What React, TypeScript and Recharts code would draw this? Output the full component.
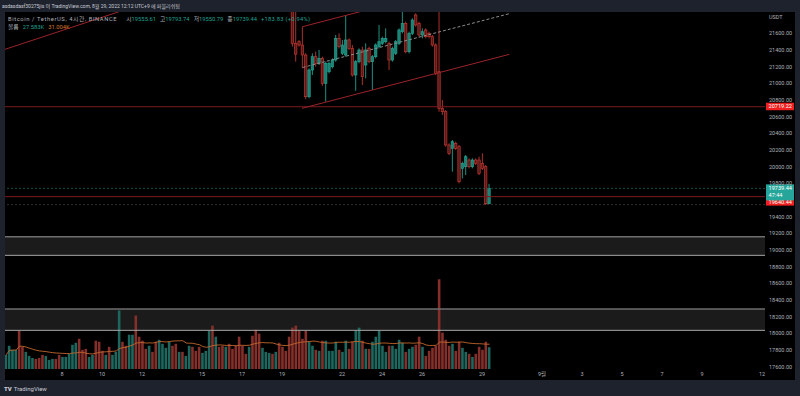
import React from 'react';
import { ComposedChart, Bar, Line, XAxis, YAxis, ReferenceLine, ReferenceArea } from 'recharts';

const FONT = "Roboto, 'Noto Sans', 'Noto Sans CJK KR', sans-serif";

// time is measured in days from 2022-08-01 00:00 (UTC+9); one bar = 4 hours
const firstBarDay = 4 + 5 / 24;
const barDays = 4 / 24;
const timeDomain = [4.15, 42.15];

const dayTicks = [7, 9, 11, 14, 16, 18, 21, 23, 25, 28, 31, 33, 35, 37, 39, 42];
const dayTickLabels = ['8', '10', '12', '15', '17', '19', '22', '24', '26', '29', '9월', '3', '5', '7', '9', '12'];

const priceDomain = [17572, 21856];
const priceTicks = [17600, 17800, 18000, 18200, 18400, 18600, 18800, 19000, 19200, 19400, 19800, 20000, 20200, 20400, 20600, 20800, 21000, 21200, 21400, 21600];

// volume in thousands (K)
const volumes = [
  17.9, 29.4, 24.3, 24.3, 48.5, 28.1, 21.7, 16.6, 14.0, 12.8,
  14.0, 17.9, 16.6, 11.5, 12.8, 12.8, 17.9, 15.3, 15.3, 19.2,
  30.6, 33.2, 38.3, 24.3, 25.5, 15.3, 17.9, 35.8, 34.5, 23.0,
  17.9, 28.1, 17.9, 21.7, 74.1, 34.5, 29.4, 43.4, 43.4, 67.7,
  40.9, 35.8, 25.5, 29.4, 21.7, 34.5, 37.0, 31.9, 26.8, 34.5,
  29.4, 31.9, 21.7, 21.7, 16.6, 29.4, 28.1, 23.0, 28.1, 20.4,
  23.0, 48.5, 54.9, 40.9, 28.1, 29.4, 28.1, 31.9, 25.5, 29.4,
  40.9, 29.4, 19.2, 28.1, 42.1, 49.8, 44.7, 26.8, 21.7, 20.4,
  19.2, 21.7, 33.2, 28.1, 23.0, 40.9, 52.4, 54.9, 48.5, 38.3,
  48.5, 34.5, 29.4, 24.3, 23.0, 35.8, 35.8, 23.0, 23.0, 34.5,
  24.3, 21.7, 35.8, 25.5, 34.5, 48.5, 52.4, 35.8, 25.5, 25.5,
  34.5, 40.9, 48.5, 29.4, 21.7, 29.4, 29.4, 25.5, 37.0, 33.2,
  21.7, 25.5, 28.1, 30.6, 40.9, 28.1, 16.6, 23.0, 26.8, 29.4,
  113.6, 46.0, 37.0, 29.4, 31.9, 23.0, 34.5, 26.8, 21.7, 19.2,
  15.3, 19.2, 28.1, 24.3, 34.5, 27.583,
];
// 1 = up bar (teal), 0 = down bar (red)
const volumeUp = [
  1, 1, 1, 1, 0, 0, 1, 1, 1, 0,
  0, 0, 1, 1, 1, 0, 0, 1, 1, 1,
  1, 1, 0, 0, 0, 1, 1, 0, 0, 0,
  1, 0, 1, 1, 1, 0, 0, 1, 1, 0,
  0, 0, 0, 1, 0, 0, 1, 1, 1, 1,
  0, 0, 1, 0, 1, 1, 0, 0, 0, 1,
  1, 1, 0, 1, 0, 0, 1, 0, 0, 0,
  0, 0, 0, 1, 0, 0, 0, 1, 1, 1,
  0, 1, 0, 0, 0, 0, 0, 0, 0, 0,
  0, 1, 1, 0, 1, 0, 1, 1, 1, 1,
  0, 1, 1, 0, 0, 1, 1, 0, 1, 0,
  1, 1, 1, 1, 1, 0, 1, 1, 1, 1,
  0, 1, 1, 0, 0, 1, 0, 0, 0, 0,
  0, 0, 0, 0, 1, 0, 0, 1, 1, 0,
  1, 0, 0, 0, 0, 1,
];
const volumeDomain = [0, 452];
const maLength = 20;

// candles visible in the price window start at bar 86
const firstCandleIndex = 86;
const opens = [
  22080, 21480, 21500, 21460, 21340, 20840, 21160, 21320, 21240, 21300,
  21000, 21140, 21200, 21280, 21540, 21360, 21340, 21520, 21420, 21100,
  21260, 21400, 21220, 21420, 21260, 21320, 21440, 21480, 21500, 21480,
  21280, 21360, 21480, 21620, 21720, 21380, 21600, 21820, 21720, 21580,
  21640, 21600, 21560, 21460, 21140, 20700, 20660, 20260, 20220, 20280,
  20240, 19980, 20000, 20080, 20000, 20080, 20080, 20040, 20000, 19555.61,
];
const highs = [
  22150, 21900, 21520, 21680, 21360, 21180, 21360, 21380, 21400, 21320,
  21260, 21260, 21300, 21580, 21600, 21520, 21820, 21540, 21460, 21280,
  21420, 21440, 21480, 21440, 21340, 21480, 21700, 21560, 21660, 21500,
  21440, 21520, 21660, 21860, 21740, 21620, 21780, 21840, 21740, 21660,
  21660, 21620, 21580, 21480, 21900, 20800, 20680, 20280, 20320, 20300,
  20260, 20060, 20140, 20100, 20100, 20100, 20120, 20160, 20020, 19793.74,
];
const lows = [
  21440, 21260, 21440, 21180, 20810, 20820, 21100, 21200, 21220, 20970,
  20780, 21120, 21180, 21260, 21420, 21340, 21320, 21400, 21080, 20910,
  21240, 20980, 21060, 21240, 20920, 21300, 21420, 21460, 21480, 21160,
  21260, 21340, 21460, 21600, 21360, 21360, 21580, 21680, 21560, 21540,
  21540, 21540, 21440, 21100, 20660, 20620, 20240, 20140, 19940, 20200,
  19800, 19860, 19900, 19980, 19980, 20020, 19900, 19960, 19540, 19550.79,
];
const closes = [
  21480, 21350, 21460, 21340, 20840, 21160, 21320, 21240, 21300, 21000,
  21240, 21240, 21280, 21540, 21440, 21460, 21520, 21420, 21100, 21260,
  21400, 21080, 21400, 21260, 21320, 21460, 21500, 21540, 21540, 21280,
  21420, 21500, 21640, 21720, 21380, 21600, 21760, 21700, 21580, 21620,
  21560, 21560, 21460, 21120, 20700, 20660, 20260, 20160, 20300, 20220,
  19820, 20040, 20120, 20000, 20080, 20040, 19920, 19980, 19555.61, 19739.44,
];

// drawings
const resistanceLevel = 20719.22;
const lastPrice = 19739.44;
const supportLevel = 19640.44;
const lowGuide = 19545;
const zones = [
  [18936, 19159],
  [18036, 18292],
];
const trendLines = [
  { from: [4.0, 21396], to: [11, 21951], dashed: false },
  { from: [19.03, 21680], to: [29.365, 22326], dashed: false },
  { from: [19.0, 20700], to: [29.365, 21348], dashed: false },
  { from: [19.03, 21190], to: [29.365, 21836], dashed: true },
];

const movingAverage = volumes.map((_, i) => {
  const w = volumes.slice(Math.max(0, i - maLength + 1), i + 1);
  return w.reduce((a, b) => a + b, 0) / w.length;
});

const rows = volumes.map((v, i) => {
  const k = i - firstCandleIndex;
  const has = k >= 0;
  return {
    t: firstBarDay + i * barDays,
    vol: v,
    up: volumeUp[i] === 1,
    ma: movingAverage[i],
    open: has ? opens[k] : null,
    high: has ? highs[k] : null,
    low: has ? lows[k] : null,
    close: has ? closes[k] : null,
    range: has ? [lows[k], highs[k]] : null,
  };
});

const UP = '#22a08f';
const UP_FILL = '#1c8072';
const DOWN = '#c0372f';
const DOWN_FILL = '#561a1a';

const CandleShape = (props: any) => {
  const { x, y, width, height, payload } = props;
  if (!payload || payload.open == null || !isFinite(y) || !isFinite(height)) return null;
  const { open, close, high, low } = payload;
  const top = Math.min(y, y + height);
  const bottom = Math.max(y, y + height);
  const span = high - low || 1;
  const toY = (p: number) => top + ((high - p) / span) * (bottom - top);
  const up = close >= open;
  const yo = toY(open);
  const yc = toY(close);
  const bodyTop = Math.min(yo, yc);
  const bodyH = Math.max(Math.abs(yo - yc), 0.8);
  const cx = x + width / 2;
  const stroke = up ? UP : DOWN;
  return (
    <g>
      <line x1={cx} x2={cx} y1={top} y2={bottom} stroke={stroke} strokeWidth={0.9} />
      <rect x={x} y={bodyTop} width={width} height={bodyH} fill={up ? UP_FILL : DOWN_FILL} stroke={stroke} strokeWidth={0.7} />
    </g>
  );
};

const VolumeShape = (props: any) => {
  const { x, y, width, height, payload } = props;
  if (!isFinite(y) || !isFinite(height)) return null;
  return <rect x={x} y={y} width={width} height={height} fill={payload.up ? '#1c675e' : '#852f2a'} />;
};

const PriceTag = (props: any) => {
  const { viewBox, text, sub, color, shift = 0 } = props;
  if (!viewBox) return null;
  const x = viewBox.x + viewBox.width + 1;
  const yLine = viewBox.y;
  const top = yLine - 4 + shift;
  const h = sub ? 16 : 7.5;
  return (
    <g>
      <rect x={x} y={top} width={28} height={h} fill={color} />
      <text x={x + 2.5} y={top + 5.6} fontSize={5.6} fill="#ffffff" fontFamily={FONT}>{text}</text>
      {sub ? (
        <text x={x + 2.5} y={top + 13} fontSize={5.6} fill="#ffffff" fontFamily={FONT}>{sub}</text>
      ) : null}
    </g>
  );
};

const grayTxt = '#aeb1b9';
const tealTxt = '#1fa091';

export default function App() {
  return (
    <div style={{ position: 'absolute', left: 0, top: 0, width: 800, height: 396, background: '#1e222d', overflow: 'hidden', fontFamily: FONT }}>
      <div style={{ position: 'absolute', left: 5, top: 12, width: 790, height: 368, background: '#000' }}>
        <ComposedChart width={790} height={368} data={rows} margin={{ top: 0, right: 0, bottom: 0, left: 0 }}>
          <XAxis
            xAxisId="t"
            type="number"
            dataKey="t"
            domain={timeDomain}
            allowDataOverflow
            ticks={dayTicks}
            interval={0}
            tickFormatter={(v: number) => dayTickLabels[dayTicks.indexOf(v)] ?? ''}
            height={11}
            axisLine={false}
            tickLine={false}
            tickSize={1}
            tickMargin={2}
            tick={{ fill: grayTxt, fontSize: 5.5, fontFamily: FONT }}
          />
          <XAxis xAxisId="c" type="number" dataKey="t" domain={timeDomain} allowDataOverflow hide height={0} orientation="top" />
          <YAxis
            yAxisId="price"
            orientation="right"
            domain={priceDomain}
            allowDataOverflow
            ticks={priceTicks}
            interval={0}
            width={30}
            axisLine={false}
            tickLine={false}
            tickSize={2}
            tickMargin={2}
            tickFormatter={(v: number) => v.toFixed(2)}
            tick={{ fill: grayTxt, fontSize: 5.5, fontFamily: FONT }}
          />
          <YAxis yAxisId="vol" hide domain={volumeDomain} allowDataOverflow width={0} />

          {zones.map(([lo, hi], i) => (
            <ReferenceArea key={'z' + i} xAxisId="t" yAxisId="price" y1={lo} y2={hi} fill="#1b1b1b" fillOpacity={1} stroke="none" ifOverflow="hidden" />
          ))}
          {zones.map(([lo, hi], i) => (
            <ReferenceLine key={'zt' + i} xAxisId="t" yAxisId="price" y={hi} stroke="#6e6e6e" strokeWidth={1.4} />
          ))}
          {zones.map(([lo, hi], i) => (
            <ReferenceLine key={'zb' + i} xAxisId="t" yAxisId="price" y={lo} stroke="#a6a6a6" strokeWidth={1} />
          ))}

          <Bar xAxisId="t" yAxisId="vol" dataKey="vol" barSize={2.6} shape={VolumeShape} isAnimationActive={false} />
          <Line xAxisId="t" yAxisId="vol" dataKey="ma" stroke="#c2662c" strokeWidth={0.9} dot={false} activeDot={false} isAnimationActive={false} />
          <Bar xAxisId="c" yAxisId="price" dataKey="range" barSize={2.4} shape={CandleShape} isAnimationActive={false} />

          <ReferenceLine xAxisId="t" yAxisId="price" y={lowGuide} stroke="#3a3a3a" strokeDasharray="2 2" strokeWidth={0.8} />
          <ReferenceLine
            xAxisId="t"
            yAxisId="price"
            y={resistanceLevel}
            stroke="#7a1a1f"
            strokeWidth={1}
            label={<PriceTag text="20719.22" color="#f01e1e" />}
          />
          <ReferenceLine
            xAxisId="t"
            yAxisId="price"
            y={supportLevel}
            stroke="#7a1a1f"
            strokeWidth={1}
            label={<PriceTag text="19640.44" color="#f01e1e" shift={5.5} />}
          />
          <ReferenceLine
            xAxisId="t"
            yAxisId="price"
            y={lastPrice}
            stroke="#1d5a52"
            strokeDasharray="2 2"
            strokeWidth={0.8}
            label={<PriceTag text="19739.44" sub="47:44" color="#26a69a" />}
          />
          {trendLines.map((l, i) => (
            <ReferenceLine
              key={'tl' + i}
              xAxisId="t"
              yAxisId="price"
              segment={[{ x: l.from[0], y: l.from[1] }, { x: l.to[0], y: l.to[1] }]}
              stroke={l.dashed ? '#8c8c8c' : '#9a2429'}
              strokeDasharray={l.dashed ? '3 2' : undefined}
              strokeWidth={1}
              ifOverflow="hidden"
            />
          ))}
        </ComposedChart>
      </div>

      <div style={{ position: 'absolute', left: 2, top: 0, height: 12, lineHeight: '12px', fontSize: 5, color: '#c9ccd4', whiteSpace: 'nowrap' }}>
        asdasdasf30275jis 이 TradingView.com, 8월 29, 2022 12:12 UTC+9 에 퍼블리쉬됨
      </div>
      <div style={{ position: 'absolute', left: 8, top: 15, height: 8, lineHeight: '8px', fontSize: 5.8, color: grayTxt, whiteSpace: 'nowrap' }}>
        <span style={{ letterSpacing: 0.6 }}>Bitcoin / TetherUS, 4시간, BINANCE</span>
        <span style={{ marginLeft: 9 }}>시</span><span style={{ color: tealTxt }}>19555.61</span>
        <span style={{ marginLeft: 4 }}>고</span><span style={{ color: tealTxt }}>19793.74</span>
        <span style={{ marginLeft: 4 }}>저</span><span style={{ color: tealTxt }}>19550.79</span>
        <span style={{ marginLeft: 4 }}>종</span><span style={{ color: tealTxt }}>19739.44</span>
        <span style={{ marginLeft: 4, color: tealTxt, letterSpacing: 0.25 }}>+183.83 (+0.94%)</span>
      </div>
      <div style={{ position: 'absolute', left: 8, top: 23, height: 8, lineHeight: '8px', fontSize: 5.8, color: grayTxt, whiteSpace: 'nowrap' }}>
        <span>볼륨</span>
        <span style={{ marginLeft: 4, color: tealTxt }}>27.583K</span>
        <span style={{ marginLeft: 4, color: '#d8782c' }}>31.004K</span>
      </div>
      <div style={{ position: 'absolute', left: 769, top: 14, fontSize: 5.5, lineHeight: '6px', color: grayTxt }}>USDT</div>
      <div style={{ position: 'absolute', left: 4, top: 385, fontSize: 6, lineHeight: '7px', color: '#c9ccd4', whiteSpace: 'nowrap' }}>
        <span style={{ fontWeight: 900, marginRight: 2 }}>TV</span>TradingView
      </div>
    </div>
  );
}
